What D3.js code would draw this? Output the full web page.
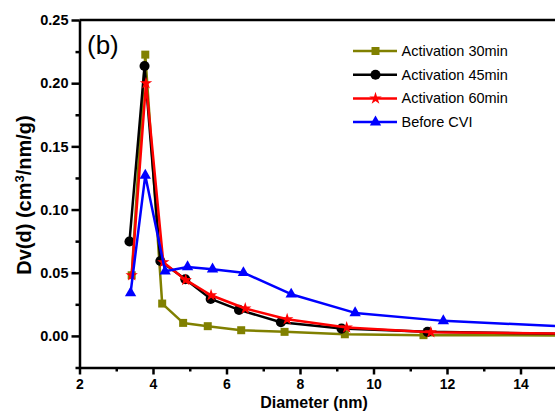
<!DOCTYPE html>
<html lang="en">

<head>
    <meta charset="UTF-8">
    <title>Pore size distribution</title>
    <script src="https://d3js.org/d3.v7.min.js"></script>
    <style>
        body { margin: 0; background: #fff; }
        svg { display: block; font-family: "Liberation Sans", Arial, sans-serif; }
        .axis path, .axis line { stroke: #000; stroke-width: 2.5; }
        .axis text { font-size: 14.5px; font-weight: bold; fill: #000; }
        .axis.x text { font-size: 14px; }
    </style>
</head>

<body>
    <div id="chart"></div>

    <script>
        var seriesNames = ["Activation 30min", "Activation 45min", "Activation 60min", "Before CVI"];
        var seriesColors = ["#808000", "#000000", "#ff0000", "#0000ff"];
        var seriesSymbols = [d3.symbolSquare, d3.symbolCircle, d3.symbolStar, d3.symbolTriangle];
        var symbolSizes = [64, 80, 48, 56];

        // diameter (nm) / Dv(d) values
        var diam30 = [3.42, 3.79, 4.25, 4.82, 5.49, 6.40, 7.58, 9.22, 11.36, 15.4];
        var dv30 = [0.048, 0.2226, 0.0256, 0.0103, 0.0077, 0.0045, 0.0032, 0.0013, 0.0006, 0.0004];

        var diam45 = [3.36, 3.77, 4.20, 4.88, 5.57, 6.34, 7.48, 9.13, 11.47, 15.4];
        var dv45 = [0.0747, 0.2136, 0.0593, 0.0448, 0.0293, 0.0206, 0.0108, 0.0058, 0.0032, 0.0016];

        var diam60 = [3.42, 3.81, 4.28, 4.89, 5.58, 6.51, 7.65, 9.27, 11.56, 15.4];
        var dv60 = [0.048, 0.200, 0.0583, 0.0443, 0.0322, 0.0217, 0.0132, 0.0066, 0.0029, 0.0018];

        var diamCVI = [3.39, 3.79, 4.33, 4.94, 5.62, 6.46, 7.76, 9.50, 11.90, 15.3];
        var dvCVI = [0.034, 0.127, 0.0512, 0.0546, 0.0528, 0.050, 0.033, 0.0182, 0.0119, 0.0074];

        var xTicks = [2, 4, 6, 8, 10, 12, 14];
        var xMinorTicks = [3, 5, 7, 9, 11, 13, 15];
        var yTicks = [0, 0.05, 0.10, 0.15, 0.20, 0.25];
        var yMinorTicks = [-0.025, 0.025, 0.075, 0.125, 0.175, 0.225];

        var diams = [diam30, diam45, diam60, diamCVI];
        var dvs = [dv30, dv45, dv60, dvCVI];

        var series = seriesNames.map(function (name, i) {
            return {
                name: name,
                color: seriesColors[i],
                symbol: seriesSymbols[i],
                size: symbolSizes[i],
                points: diams[i].map(function (d, j) { return { x: d, y: dvs[i][j] }; })
            };
        });

        var width = 555, height = 411;

        var svg = d3.select("#chart").append("svg")
            .attr("width", width)
            .attr("height", height);

        var x = d3.scaleLinear().domain([2, 16]).range([79.5, 594]);
        var y = d3.scaleLinear().domain([-0.025, 0.25]).range([367.5, 20]);

        // minor ticks
        svg.append("g")
            .attr("class", "axis")
            .attr("transform", "translate(0," + y(-0.025) + ")")
            .call(d3.axisBottom(x).tickValues(xMinorTicks).tickSize(4).tickSizeOuter(0).tickFormat(""))
            .select(".domain").remove();

        svg.append("g")
            .attr("class", "axis")
            .attr("transform", "translate(" + x(2) + ",0)")
            .call(d3.axisLeft(y).tickValues(yMinorTicks).tickSize(4).tickSizeOuter(0).tickFormat(""))
            .select(".domain").remove();

        // major axes
        svg.append("g")
            .attr("class", "axis x")
            .attr("transform", "translate(0," + y(-0.025) + ")")
            .call(d3.axisBottom(x).tickValues(xTicks).tickSize(7).tickSizeOuter(0).tickPadding(5).tickFormat(d3.format("d")));

        svg.append("g")
            .attr("class", "axis")
            .attr("transform", "translate(" + x(2) + ",0)")
            .call(d3.axisLeft(y).tickValues(yTicks).tickSize(8).tickSizeOuter(0).tickPadding(3).tickFormat(d3.format(".2f")));

        // top frame line
        svg.append("line")
            .attr("x1", x(2))
            .attr("x2", x(16))
            .attr("y1", y(0.25))
            .attr("y2", y(0.25))
            .attr("stroke", "#000")
            .attr("stroke-width", 2.5);

        var line = d3.line()
            .x(function (d) { return x(d.x); })
            .y(function (d) { return y(d.y); });

        var groups = svg.append("g")
            .selectAll("g")
            .data(series)
            .enter().append("g");

        groups.append("path")
            .attr("d", function (d) { return line(d.points); })
            .attr("fill", "none")
            .attr("stroke", function (d) { return d.color; })
            .attr("stroke-width", 2.5)
            .attr("stroke-linejoin", "round");

        groups.each(function (s) {
            d3.select(this).selectAll("path.mark")
                .data(s.points)
                .enter().append("path")
                .attr("class", "mark")
                .attr("transform", function (d) { return "translate(" + x(d.x) + "," + y(d.y) + ")"; })
                .attr("d", d3.symbol().type(s.symbol).size(s.size))
                .attr("fill", s.color);
        });

        // panel label
        svg.append("text")
            .attr("x", 87)
            .attr("y", 54)
            .attr("font-size", 26)
            .text("(b)");

        // axis titles
        svg.append("text")
            .attr("x", 314)
            .attr("y", 408)
            .attr("text-anchor", "middle")
            .attr("font-size", 16)
            .attr("font-weight", "bold")
            .text("Diameter (nm)");

        var yTitle = svg.append("text")
            .attr("transform", "translate(31,195) rotate(-90)")
            .attr("text-anchor", "middle")
            .attr("font-size", 20)
            .attr("font-weight", "bold");
        yTitle.append("tspan").text("Dv(d) (cm");
        yTitle.append("tspan").attr("dy", -7).attr("font-size", 13).text("3");
        yTitle.append("tspan").attr("dy", 7).text("/nm/g)");

        // legend
        var legend = svg.append("g")
            .selectAll("g")
            .data(series)
            .enter().append("g")
            .attr("transform", function (d, i) { return "translate(353," + (51 + i * 23.7) + ")"; });

        legend.append("line")
            .attr("x1", 0)
            .attr("x2", 44)
            .attr("stroke", function (d) { return d.color; })
            .attr("stroke-width", 2.5);

        legend.append("path")
            .attr("transform", "translate(22.5,0)")
            .attr("d", function (d) { return d3.symbol().type(d.symbol).size(d.size)(); })
            .attr("fill", function (d) { return d.color; });

        legend.append("text")
            .attr("x", 48.5)
            .attr("dy", "0.35em")
            .attr("font-size", 14.5)
            .text(function (d) { return d.name; });
    </script>
</body>
</html>
